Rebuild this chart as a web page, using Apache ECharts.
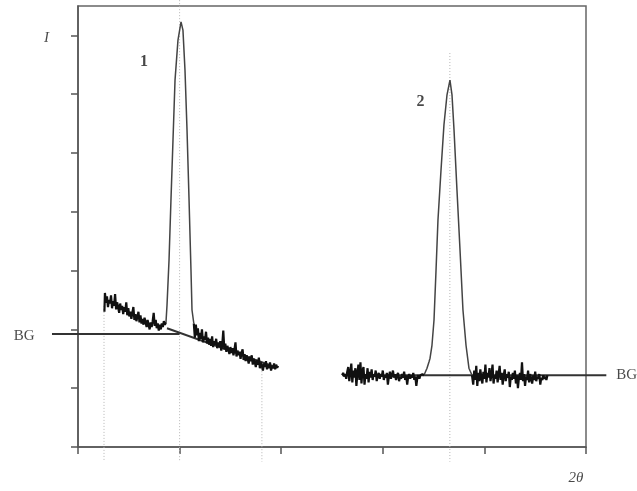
<!DOCTYPE html>
<html>
<head>
<meta charset="utf-8">
<script src="https://cdn.jsdelivr.net/npm/echarts@6/dist/echarts.min.js"></script>
<style>
  html, body { margin: 0; padding: 0; background: #fff; }
  #xrd { width: 637px; height: 491px; }
</style>
</head>
<body>
<div id="xrd"></div>
<script>
// tick positions (no numbers are printed on this schematic)
var xTicks = [0, 1, 2, 3, 4, 5];
var yTicks = [0, 1, 2, 3, 4, 5, 6, 7];

// peak 1 sitting on a sloping background
var bg1Left = [
  [0.26, 2.30], [0.265, 2.62], [0.275, 2.45], [0.285, 2.56], [0.295, 2.38], [0.305, 2.50],
  [0.315, 2.44], [0.325, 2.58], [0.335, 2.36], [0.345, 2.48], [0.355, 2.40], [0.365, 2.60],
  [0.375, 2.34], [0.385, 2.46], [0.395, 2.38], [0.405, 2.28], [0.415, 2.44], [0.425, 2.33],
  [0.435, 2.40], [0.445, 2.26], [0.455, 2.38], [0.465, 2.30], [0.475, 2.46], [0.485, 2.24],
  [0.495, 2.36], [0.505, 2.22], [0.515, 2.30], [0.525, 2.18], [0.535, 2.28], [0.545, 2.38],
  [0.555, 2.16], [0.565, 2.26], [0.575, 2.14], [0.585, 2.22], [0.595, 2.30], [0.605, 2.12],
  [0.615, 2.24], [0.625, 2.10], [0.635, 2.18], [0.645, 2.08], [0.655, 2.20], [0.665, 2.12],
  [0.675, 2.04], [0.685, 2.16], [0.695, 2.08], [0.705, 2.00], [0.715, 2.12], [0.725, 2.04],
  [0.735, 2.14], [0.745, 2.28], [0.755, 2.06], [0.765, 2.16], [0.775, 2.02], [0.785, 2.10],
  [0.795, 1.98], [0.805, 2.08], [0.815, 2.00], [0.825, 2.10], [0.835, 2.04], [0.845, 2.14],
  [0.855, 2.08], [0.866, 2.12]
];
var peak1 = [
  [0.866, 2.12], [0.876, 2.41], [0.896, 3.18], [0.915, 4.20], [0.935, 5.22], [0.955, 6.24],
  [0.984, 6.92], [1.014, 7.23], [1.033, 7.09], [1.053, 6.41], [1.073, 5.39], [1.093, 4.20],
  [1.112, 3.01], [1.122, 2.33], [1.14, 2.10]
];
var bg1Right = [
  [1.14, 2.10], [1.15, 1.86], [1.16, 2.08], [1.17, 1.90], [1.18, 2.02], [1.19, 1.80],
  [1.20, 1.94], [1.21, 1.84], [1.22, 2.00], [1.23, 1.78], [1.24, 1.88], [1.25, 1.82],
  [1.26, 1.96], [1.27, 1.76], [1.28, 1.86], [1.29, 1.74], [1.30, 1.84], [1.31, 1.72],
  [1.32, 1.88], [1.33, 1.70], [1.34, 1.80], [1.35, 1.74], [1.36, 1.84], [1.37, 1.68],
  [1.38, 1.78], [1.39, 1.70], [1.40, 1.80], [1.41, 1.64], [1.42, 1.74], [1.43, 1.98],
  [1.44, 1.66], [1.45, 1.76], [1.46, 1.62], [1.47, 1.72], [1.48, 1.66], [1.49, 1.58],
  [1.50, 1.70], [1.51, 1.60], [1.52, 1.68], [1.53, 1.56], [1.54, 1.66], [1.55, 1.78],
  [1.56, 1.54], [1.57, 1.64], [1.58, 1.56], [1.59, 1.62], [1.60, 1.50], [1.61, 1.60],
  [1.62, 1.66], [1.63, 1.48], [1.64, 1.58], [1.65, 1.46], [1.66, 1.56], [1.67, 1.50],
  [1.68, 1.42], [1.69, 1.54], [1.70, 1.46], [1.71, 1.56], [1.72, 1.40], [1.73, 1.50],
  [1.74, 1.44], [1.75, 1.36], [1.76, 1.48], [1.77, 1.40], [1.78, 1.52], [1.79, 1.34],
  [1.80, 1.44], [1.81, 1.38], [1.82, 1.30], [1.83, 1.42], [1.84, 1.36], [1.85, 1.46],
  [1.86, 1.32], [1.87, 1.40], [1.88, 1.34], [1.89, 1.44], [1.90, 1.30], [1.91, 1.38],
  [1.92, 1.34], [1.93, 1.42], [1.94, 1.32], [1.95, 1.40], [1.96, 1.35], [1.97, 1.38]
];

// peak 2 on a flat background
var bg2Left = [
  [2.60, 1.22], [2.61, 1.26], [2.62, 1.20], [2.63, 1.24], [2.64, 1.16], [2.65, 1.28],
  [2.66, 1.36], [2.67, 1.12], [2.68, 1.26], [2.69, 1.42], [2.70, 1.10], [2.71, 1.30],
  [2.72, 1.18], [2.73, 1.34], [2.74, 1.04], [2.75, 1.26], [2.76, 1.40], [2.77, 1.14],
  [2.78, 1.44], [2.79, 1.08], [2.80, 1.30], [2.81, 1.36], [2.82, 1.06], [2.83, 1.24],
  [2.84, 1.16], [2.85, 1.34], [2.86, 1.10], [2.87, 1.28], [2.88, 1.18], [2.89, 1.32],
  [2.90, 1.14], [2.91, 1.24], [2.92, 1.20], [2.93, 1.30], [2.94, 1.12], [2.95, 1.22],
  [2.96, 1.26], [2.97, 1.16], [2.98, 1.24], [2.99, 1.20], [3.00, 1.30], [3.01, 1.14],
  [3.02, 1.22], [3.03, 1.18], [3.04, 1.26], [3.05, 1.06], [3.06, 1.20], [3.07, 1.28],
  [3.08, 1.16], [3.09, 1.22], [3.10, 1.30], [3.11, 1.18], [3.12, 1.24], [3.13, 1.14],
  [3.14, 1.22], [3.15, 1.26], [3.16, 1.12], [3.17, 1.20], [3.18, 1.16], [3.19, 1.24],
  [3.20, 1.18], [3.21, 1.28], [3.22, 1.14], [3.23, 1.22], [3.24, 1.06], [3.25, 1.20],
  [3.26, 1.24], [3.27, 1.16], [3.28, 1.22], [3.29, 1.18], [3.30, 1.26], [3.31, 1.14],
  [3.32, 1.20], [3.33, 1.04], [3.34, 1.18], [3.35, 1.22], [3.36, 1.16], [3.37, 1.22],
  [3.38, 1.20], [3.39, 1.24], [3.405, 1.22]
];
var peak2 = [
  [3.405, 1.22], [3.435, 1.34], [3.455, 1.45], [3.465, 1.51], [3.484, 1.73], [3.504, 2.16],
  [3.524, 3.01], [3.543, 3.86], [3.573, 4.71], [3.602, 5.48], [3.632, 5.99], [3.661, 6.24],
  [3.681, 5.99], [3.701, 5.39], [3.730, 4.37], [3.760, 3.35], [3.789, 2.33], [3.819, 1.73],
  [3.848, 1.34], [3.878, 1.22]
];
var bg2Right = [
  [3.878, 1.22], [3.89, 1.06], [3.90, 1.30], [3.91, 1.14], [3.92, 1.38], [3.93, 1.04],
  [3.94, 1.26], [3.95, 1.12], [3.96, 1.32], [3.97, 1.18], [3.98, 1.08], [3.99, 1.28],
  [4.00, 1.16], [4.01, 1.40], [4.02, 1.10], [4.03, 1.26], [4.04, 1.18], [4.05, 1.34],
  [4.06, 1.12], [4.07, 1.24], [4.08, 1.40], [4.09, 1.08], [4.10, 1.22], [4.11, 1.16],
  [4.12, 1.30], [4.13, 1.10], [4.14, 1.24], [4.15, 1.38], [4.16, 1.14], [4.17, 1.26],
  [4.18, 1.06], [4.19, 1.22], [4.20, 1.32], [4.21, 1.12], [4.22, 1.24], [4.23, 1.18],
  [4.24, 1.28], [4.25, 1.02], [4.26, 1.20], [4.27, 1.14], [4.28, 1.26], [4.29, 1.16],
  [4.30, 1.30], [4.31, 1.08], [4.32, 1.22], [4.33, 1.00], [4.34, 1.18], [4.35, 1.26],
  [4.36, 1.14], [4.37, 1.44], [4.38, 1.12], [4.39, 1.24], [4.40, 1.04], [4.41, 1.20],
  [4.42, 1.14], [4.43, 1.30], [4.44, 1.10], [4.45, 1.24], [4.46, 1.16], [4.47, 1.08],
  [4.48, 1.22], [4.49, 1.14], [4.50, 1.28], [4.51, 1.12], [4.52, 1.20], [4.53, 1.16],
  [4.54, 1.24], [4.55, 1.06], [4.56, 1.18], [4.57, 1.14], [4.58, 1.22], [4.59, 1.16],
  [4.60, 1.20], [4.61, 1.14], [4.62, 1.22]
];

// straight background (BG) lines: [x1, y1, x2, y2]
var bgLines = [
  [-0.256, 1.92, 1.0, 1.92],
  [0.876, 2.02, 1.96, 1.35],
  [2.60, 1.22, 5.20, 1.22]
];

// dotted drop lines
var dropX = [0.256, 1.0, 1.81, 3.66];
var dropTop = [2.40, 7.65, 1.34, 6.70];
var dropBottom = -0.25;

// text annotations
var notes = [
  { name: 'I', value: [-0.31, 6.95], style: 'italic', size: 15, weight: 'normal' },
  { name: '1', value: [0.65, 6.55], style: 'normal', size: 16, weight: 'bold' },
  { name: '2', value: [3.37, 5.87], style: 'normal', size: 16, weight: 'bold' },
  { name: 'BG', value: [-0.53, 1.88], style: 'normal', size: 15, weight: 'normal' },
  { name: 'BG', value: [5.40, 1.22], style: 'normal', size: 15, weight: 'normal' },
  { name: '2θ', value: [4.90, -0.53], style: 'italic', size: 15, weight: 'normal' }
];

var chart = echarts.init(document.getElementById('xrd'));

function plain(name, data, color, width) {
  return {
    name: name,
    type: 'line',
    data: data,
    showSymbol: false,
    clip: false,
    silent: true,
    animation: false,
    lineStyle: { color: color, width: width }
  };
}

// free segments that may run outside the plot frame
function segments(name, data, color, width, type) {
  return {
    name: name,
    type: 'custom',
    clip: false,
    silent: true,
    animation: false,
    data: data,
    renderItem: function (params, api) {
      var p1 = api.coord([api.value(0), api.value(1)]);
      var p2 = api.coord([api.value(2), api.value(3)]);
      return {
        type: 'line',
        shape: { x1: p1[0], y1: p1[1], x2: p2[0], y2: p2[1] },
        style: { stroke: color, lineWidth: width, lineDash: type === 'dotted' ? [1, 2] : null }
      };
    }
  };
}

var series = [];
series.push(segments('drops', dropX.map(function (x, i) {
  return [x, dropTop[i], x, dropBottom];
}), '#b5b5b5', 1, 'dotted'));
series.push(segments('bg', bgLines, '#333', 2));
series.push(plain('peak1', peak1, '#444', 1.5));
series.push(plain('peak2', peak2, '#444', 1.5));
series.push(plain('bg1Left', bg1Left, '#111', 2.2));
series.push(plain('bg1Right', bg1Right, '#111', 2.2));
series.push(plain('bg2Left', bg2Left, '#111', 2.2));
series.push(plain('bg2Right', bg2Right, '#111', 2.2));
series.push({
  name: 'notes',
  type: 'scatter',
  clip: false,
  silent: true,
  animation: false,
  symbolSize: 0,
  data: notes.map(function (n) {
    return {
      name: n.name,
      value: n.value,
      label: { fontStyle: n.style, fontSize: n.size, fontWeight: n.weight }
    };
  }),
  label: {
    show: true,
    position: 'inside',
    formatter: '{b}',
    color: '#1a1a1a',
    fontFamily: 'Liberation Serif, DejaVu Serif, serif'
  }
});

var option = {
  backgroundColor: '#fff',
  grid: {
    left: 78, right: 51, top: 6, bottom: 44,
    show: true,
    borderColor: '#666',
    borderWidth: 1.5
  },
  xAxis: {
    type: 'value',
    min: 0, max: 5, interval: 1,
    axisLine: { show: true, lineStyle: { color: '#555', width: 1.5 } },
    axisTick: { show: true, length: 7, customValues: xTicks, lineStyle: { color: '#555', width: 1.5 } },
    axisLabel: { show: false },
    splitLine: { show: false }
  },
  yAxis: {
    type: 'value',
    min: 0, max: 7.5, interval: 1,
    axisLine: { show: true, lineStyle: { color: '#555', width: 1.5 } },
    axisTick: { show: true, length: 7, customValues: yTicks, lineStyle: { color: '#555', width: 1.5 } },
    axisLabel: { show: false },
    splitLine: { show: false }
  },
  series: series
};

option && chart.setOption(option);
</script>
</body>
</html>
